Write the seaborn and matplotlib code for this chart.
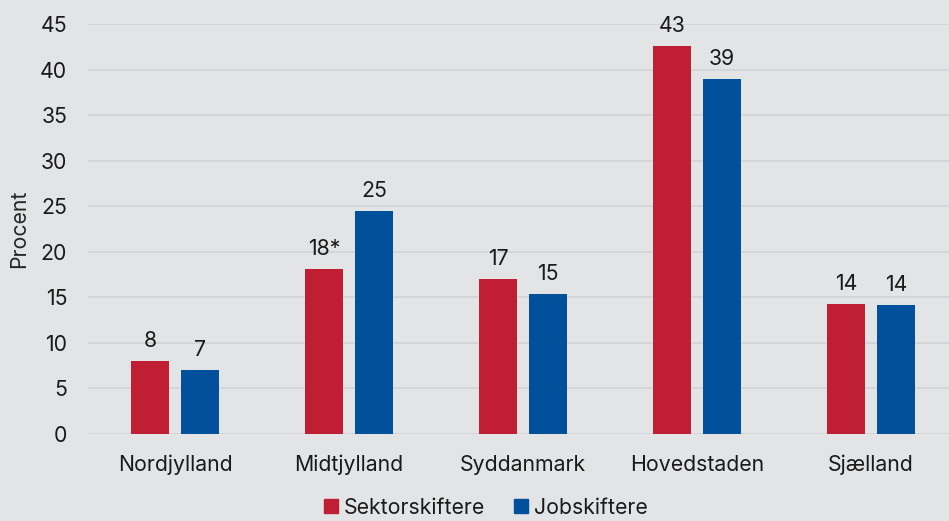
import numpy as np
import pandas as pd
import matplotlib
matplotlib.use("Agg")
import matplotlib.pyplot as plt
from matplotlib.lines import Line2D
import seaborn as sns

regions = ["Nordjylland", "Midtjylland", "Syddanmark", "Hovedstaden", "Sjælland"]
sektor = [8.0, 18.1, 17.0, 42.6, 14.3]
job = [7.0, 24.5, 15.4, 39.0, 14.2]
sektor_labels = ["8", "18*", "17", "43", "14"]
job_labels = ["7", "25", "15", "39", "14"]
series = ["Sektorskiftere", "Jobskiftere"]
colors = ["#C01E32", "#00509B"]

df = pd.DataFrame({
    "region": regions * 2,
    "serie": [series[0]] * 5 + [series[1]] * 5,
    "value": sektor + job,
})

bg = "#E3E4E6"
fs = 15.3
sns.set_theme(style="white")
plt.rcParams["font.family"] = ["Inter", "DejaVu Sans"]
plt.rcParams["text.color"] = "#1a1a1a"

fig = plt.figure(figsize=(9.49, 5.21), dpi=100, facecolor=bg)
ax = fig.add_axes([88 / 949, 1 - 434 / 521, 870 / 949, 410 / 521])
ax.set_facecolor(bg)

sns.barplot(data=df, x="region", y="value", hue="serie", order=regions,
            hue_order=series, palette=colors, width=0.575, gap=0.24,
            saturation=1, edgecolor="none", legend=False, ax=ax)

for cont, labs in zip(ax.containers, [sektor_labels, job_labels]):
    ax.bar_label(cont, labels=labs, padding=7, fontsize=fs, color="#1a1a1a")

ax.set_ylim(0, 45)
ax.set_xlim(-0.5, 4.5)
ax.set_yticks(range(0, 50, 5))
ax.yaxis.grid(True, color="#D4D5D8", linewidth=1.4)
ax.set_axisbelow(True)
for s in ax.spines.values():
    s.set_visible(False)
ax.tick_params(axis="both", length=0, labelsize=fs, labelcolor="#1a1a1a")
ax.tick_params(axis="x", pad=15)
ax.tick_params(axis="y", pad=15)
ax.set_xlabel("")
ax.set_ylabel("Procent", fontsize=fs)
ax.yaxis.set_label_coords(-0.068, 0.5)

handles = [Line2D([], [], marker="s", linestyle="none", markersize=10,
                  markerfacecolor=c, markeredgecolor=c) for c in colors]
fig.legend(handles, series, loc="lower center", bbox_to_anchor=(0.51, -0.03),
           ncol=2, frameon=False, fontsize=fs, handletextpad=0.12,
           handlelength=1.0, columnspacing=1.2)

fig.savefig("out.png", dpi=100, facecolor=bg)
